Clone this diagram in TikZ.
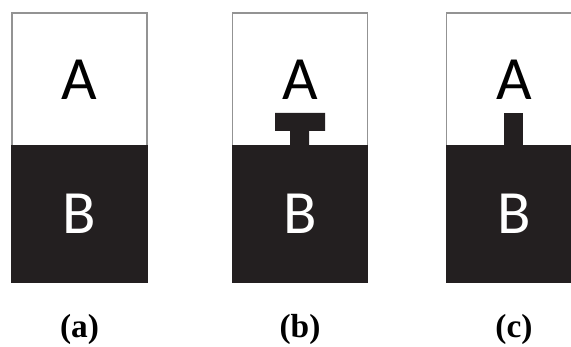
\documentclass[tikz,border=0pt]{standalone}
\usepackage{fontspec}
\setmainfont{Liberation Serif}
\newfontfamily\boxfont{Carlito}
\usetikzlibrary{positioning}
\definecolor{ink}{HTML}{231F20}

\begin{document}
\begin{tikzpicture}[x=0.02cm,y=-0.02cm,
  upper/.style={draw=gray!85,fill=white,line width=0.7pt,minimum width=2.7cm,
    minimum height=2.66cm,inner sep=0pt,font=\boxfont\fontsize{35}{40}\selectfont},
  lower/.style={draw=ink,fill=ink,text=white,line width=0.7pt,minimum width=2.7cm,
    minimum height=2.72cm,inner sep=0pt,font=\boxfont\fontsize{35}{40}\selectfont},
  tag/.style={font=\bfseries\fontsize{19}{22}\selectfont}]
  \useasboundingbox (0,0) rectangle (571,347);
  \clip (0,0) rectangle (571,347);
  % the three panels
  \foreach \cx/\lbl in {79.5/a,300/b,514/c} {
    \node[upper] (top-\lbl) at (\cx,79.5) {A};
    \node[lower] (bot-\lbl) at (\cx,214) {B};
    \node[tag] (tag-\lbl) at (\cx,329) {(\lbl)};
  }
  % (b): T-shaped grip of B into A
  \fill[ink] (275,113) -- (325,113) -- (325,131) -- (309,131) -- (309,147)
    -- (290,147) -- (290,131) -- (275,131) -- cycle;
  % (c): straight stub of B into A
  \fill[ink] (504,113) rectangle (523,147);
\end{tikzpicture}
\end{document}
